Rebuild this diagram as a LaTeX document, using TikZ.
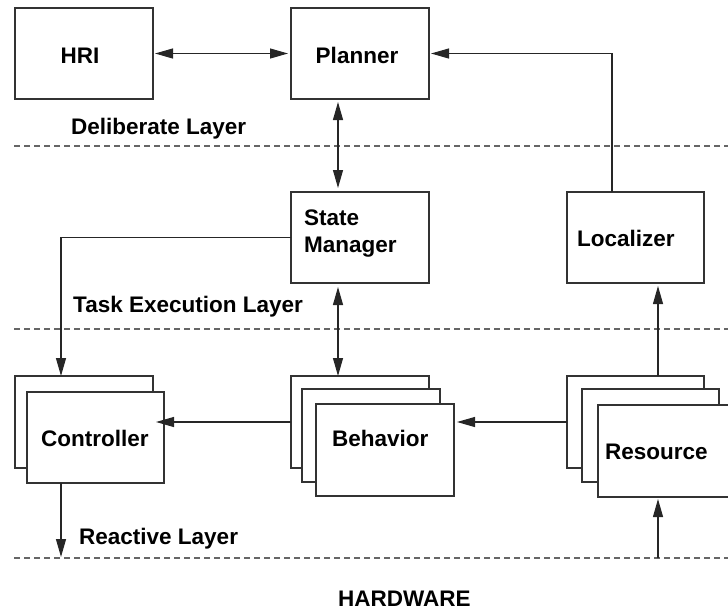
\documentclass[tikz,border=0pt]{standalone}
\usepackage{fontspec}
\setmainfont{Liberation Sans}
\usetikzlibrary{arrows.meta,calc}
\begin{document}
\begin{tikzpicture}[x=1pt,y=-1pt,
  box/.style={draw=black!80,line width=1.1pt,fill=white,inner sep=0pt,outer sep=0pt,minimum width=138pt,minimum height=91pt,anchor=north west},
  lbl/.style={font=\fontsize{22.5}{27}\selectfont\bfseries,inner sep=0pt,anchor=base west},
  conn/.style={draw=black!85,line width=1.1pt},
  tip/.style={conn,-{Triangle[length=18pt,width=10pt]}},
  dtip/.style={conn,{Triangle[length=18pt,width=10pt]}-{Triangle[length=18pt,width=10pt]}},
  layer/.style={draw=black!60,line width=1.1pt,dash pattern=on 6pt off 4pt}]
\useasboundingbox (0,0) rectangle (728,611);
% layer separators
\draw[layer] (14,146) -- (728,146);
\draw[layer] (14,329) -- (728,329);
\draw[layer] (14,558) -- (728,558);
% boxes
\node[box] (hri) at (15,8) {};
\node[box] (plan) at (291,8) {};
\node[box] (sm) at (291,192) {};
\node[box,minimum width=137pt] (loc) at (567,192) {};
\node[box,minimum height=92pt] (ctrlb) at (15,376) {};
\node[box,minimum width=137pt] (ctrlf) at (27,392) {};
\node[box,minimum height=92pt] (behb) at (291,376) {};
\node[box,minimum height=93pt] (behm) at (302,389) {};
\node[box,minimum height=92pt] (behf) at (316,404) {};
\node[box,minimum width=137pt,minimum height=92pt] (resb) at (567,376) {};
\node[box,minimum width=137pt,minimum height=93pt] (resm) at (582,389) {};
\node[box,minimum height=92pt] (resf) at (598,405) {};
% texts
\node[lbl,anchor=base] (thri) at (80,63) {HRI};
\node[lbl,anchor=base] (tplan) at (357,63) {Planner};
\node[lbl,align=left] (tsm) at (304,252) {State\\Manager};
\node[lbl] (tloc) at (577,246) {Localizer};
\node[lbl] (tctrl) at (41,446) {Controller};
\node[lbl] (tbeh) at (332,446) {Behavior};
\node[lbl] (tres) at (605,459) {Resource};
\node[lbl] (tdel) at (71,134) {Deliberate Layer};
\node[lbl] (ttask) at (73,312) {Task Execution Layer};
\node[lbl] (treac) at (79,544) {Reactive Layer};
\node[lbl] (thw) at (338,606) {HARDWARE};
% helper coordinates
\coordinate (xa) at (338,0);
\coordinate (xb) at (612,0);
\coordinate (xc) at (658,0);
\coordinate (xd) at (61,0);
\coordinate (hw) at (658,558);
\coordinate (react) at (61,557);
% connectors
\draw[dtip,shorten <=2pt,shorten >=3pt] (hri.east) -- (plan.west);
\draw[dtip,shorten <=3pt,shorten >=4pt] (plan.south -| xa) -- (sm.north -| xa);
\draw[tip,shorten >=2pt] (loc.north -| xb) |- (plan.east);
\draw[tip] (sm.west) -| (ctrlb.north -| xd);
\draw[dtip,shorten <=4pt] (sm.south -| xa) -- (behb.north -| xa);
\draw[tip] (behb.west) -- ($(ctrlb.east)+(3,0)$);
\draw[tip,shorten >=3pt] (resb.west) -- (behf.east |- resb.west);
\draw[tip,shorten >=3pt] (resb.north -| xc) -- (loc.south -| xc);
\draw[tip,shorten >=2pt] (hw) -- (resf.south -| xc);
\draw[tip] (ctrlf.south -| xd) -- (react);
\end{tikzpicture}
\end{document}
